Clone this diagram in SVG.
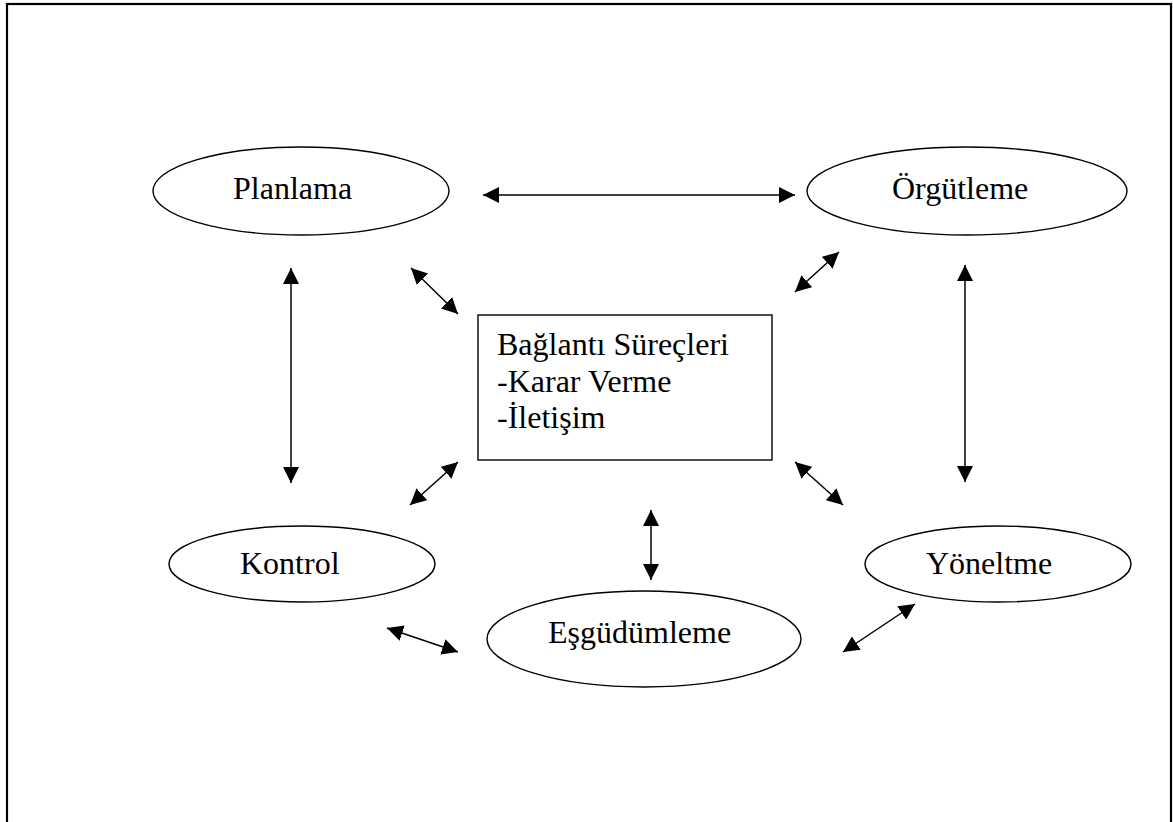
<svg xmlns="http://www.w3.org/2000/svg" width="1173" height="822" viewBox="0 0 1173 822">
<style>
.node{fill:#fff;stroke:#000;stroke-width:1.4}
.lbl{font-family:"Liberation Serif","Times New Roman",serif;font-size:32px;fill:#000}
.con{stroke:#000;stroke-width:1.5;fill:none;marker-start:url(#ah);marker-end:url(#ah)}
</style>
<defs>
<marker id="ah" viewBox="0 0 16 16" refX="16" refY="8" markerWidth="16" markerHeight="16" markerUnits="userSpaceOnUse" orient="auto-start-reverse">
<path d="M0,0 L16,8 L0,16 z" fill="#000"/>
</marker>
</defs>
<rect x="0" y="0" width="1173" height="822" fill="#fff"/>
<rect x="7" y="4" width="1164" height="830" fill="none" stroke="#000" stroke-width="2.2"/>
<g id="connectors">
<line class="con" x1="483" y1="195" x2="795" y2="195"/>
<line class="con" x1="411" y1="268" x2="458" y2="314"/>
<line class="con" x1="839" y1="252" x2="795" y2="292"/>
<line class="con" x1="291" y1="268" x2="291" y2="483"/>
<line class="con" x1="965" y1="265" x2="965" y2="482"/>
<line class="con" x1="458" y1="462" x2="410" y2="505"/>
<line class="con" x1="795" y1="462" x2="843" y2="505"/>
<line class="con" x1="651" y1="510" x2="651" y2="580"/>
<line class="con" x1="387" y1="628" x2="458" y2="652"/>
<line class="con" x1="843" y1="652" x2="915" y2="604"/>
</g>
<g id="planlama">
<ellipse class="node" cx="301" cy="191" rx="148" ry="44"/>
<text class="lbl" x="233" y="199">Planlama</text>
</g>
<g id="orgutleme">
<ellipse class="node" cx="967" cy="191" rx="160" ry="44"/>
<text class="lbl" x="892" y="199">Örgütleme</text>
</g>
<g id="baglanti">
<rect class="node" x="478" y="315" width="294" height="145" stroke-width="1.6"/>
<text class="lbl" x="497" y="355">Bağlantı Süreçleri</text>
<text class="lbl" x="497" y="392">-Karar Verme</text>
<text class="lbl" x="497" y="428">-İletişim</text>
</g>
<g id="kontrol">
<ellipse class="node" cx="302" cy="564" rx="133" ry="38"/>
<text class="lbl" x="240" y="574">Kontrol</text>
</g>
<g id="yoneltme">
<ellipse class="node" cx="998" cy="564" rx="133" ry="38"/>
<text class="lbl" x="926" y="574">Yöneltme</text>
</g>
<g id="esgudumleme">
<ellipse class="node" cx="644" cy="639" rx="157" ry="48"/>
<text class="lbl" x="548" y="643">Eşgüdümleme</text>
</g>
</svg>
